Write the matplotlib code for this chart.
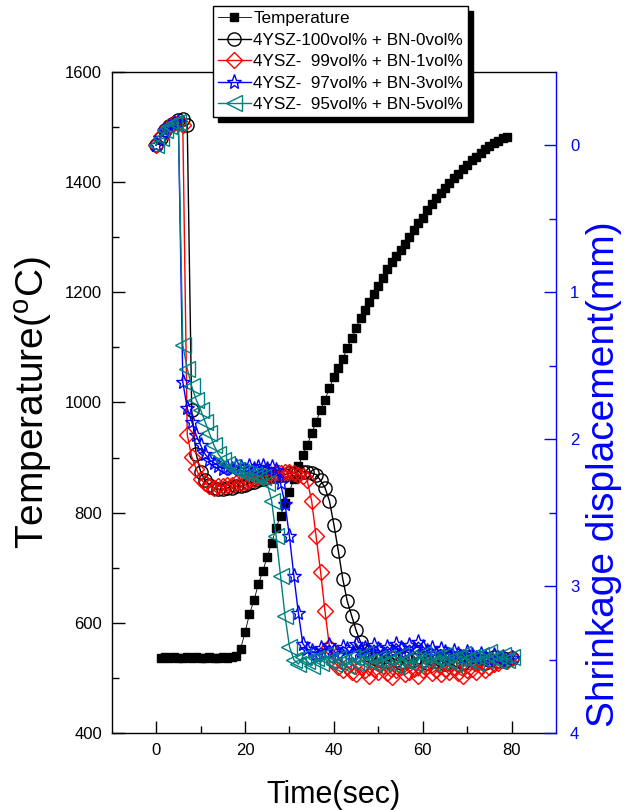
import matplotlib
matplotlib.use('Agg')
import matplotlib.pyplot as plt
from matplotlib.patches import Rectangle
from matplotlib.ticker import FixedLocator

plt.rcParams['font.family'] = ['Liberation Sans', 'DejaVu Sans']
plt.rcParams['mathtext.fontset'] = 'custom'
plt.rcParams['mathtext.rm'] = 'Liberation Sans'

# ---------------- data ----------------
temp_time = list(range(1, 80))
temperature = [537, 538, 537, 538, 537, 537, 538, 537, 538, 537, 537, 538, 537, 537, 538, 537, 538, 540,
               553, 583, 616, 641, 670, 694, 720, 745, 772, 795, 818, 838, 862, 884, 905, 923, 944, 965,
               986, 1005, 1026, 1047, 1062, 1079, 1098, 1117, 1135, 1153, 1168, 1183, 1196, 1211, 1226,
               1242, 1255, 1266, 1277, 1288, 1301, 1312, 1325, 1335, 1350, 1360, 1370, 1380, 1389, 1398,
               1407, 1415, 1423, 1431, 1439, 1446, 1453, 1459, 1465, 1470, 1475, 1479, 1482]

disp_time = list(range(0, 81))
bn0 = [0.00, -0.05, -0.10, -0.13, -0.15, -0.17, -0.18, -0.14,
       1.80, 2.10, 2.22, 2.28, 2.31, 2.33, 2.34, 2.34,
       2.33, 2.33, 2.32, 2.32, 2.31, 2.30, 2.29, 2.28,
       2.27, 2.26, 2.25, 2.25, 2.24, 2.24, 2.23, 2.23,
       2.22, 2.22, 2.22, 2.23, 2.24, 2.28, 2.33, 2.42,
       2.58, 2.76, 2.95, 3.10, 3.20, 3.30, 3.38, 3.44,
       3.47, 3.49, 3.50, 3.48, 3.51, 3.49, 3.50, 3.52,
       3.49, 3.51, 3.50, 3.48, 3.50, 3.52, 3.49, 3.51,
       3.50, 3.53, 3.49, 3.51, 3.50, 3.52, 3.48, 3.50,
       3.51, 3.49, 3.52, 3.50, 3.48, 3.51, 3.49, 3.50,
       3.49]
bn1 = [0.00, -0.06, -0.10, -0.13, -0.15, -0.15, -0.14,
       1.97, 2.12, 2.20, 2.27, 2.30, 2.32, 2.33, 2.32,
       2.32, 2.31, 2.31, 2.30, 2.30, 2.29, 2.28, 2.27,
       2.26, 2.25, 2.25, 2.24, 2.23, 2.23, 2.22, 2.22,
       2.23, 2.24, 2.25,
       2.28, 2.42, 2.66, 2.90, 3.17, 3.41, 3.51, 3.55,
       3.57, 3.54, 3.58, 3.60, 3.55, 3.57, 3.61, 3.56, 3.58, 3.54,
       3.59, 3.62, 3.57, 3.55, 3.60, 3.58, 3.56, 3.61, 3.57, 3.54,
       3.59, 3.57, 3.60, 3.56, 3.58, 3.55, 3.59, 3.61, 3.57, 3.56,
       3.58, 3.54, 3.57, 3.55, 3.53, 3.52, 3.50, 3.51, 3.49]
bn3 = [0.00, -0.05, -0.10, -0.13, -0.15, -0.16,
       1.61, 1.79, 1.88, 1.97, 2.04, 2.10, 2.14, 2.16,
       2.18, 2.20, 2.19, 2.20, 2.18, 2.19, 2.21, 2.18,
       2.20, 2.19, 2.18, 2.20, 2.19, 2.21,
       2.30, 2.44, 2.66, 2.93, 3.18, 3.39, 3.43, 3.44,
       3.46, 3.42, 3.45, 3.40, 3.44, 3.47, 3.41, 3.43, 3.46, 3.39,
       3.44, 3.42, 3.45, 3.40, 3.43, 3.46, 3.41, 3.44, 3.39, 3.42,
       3.45, 3.40, 3.43, 3.38, 3.41, 3.44, 3.42, 3.46, 3.43, 3.45,
       3.47, 3.44, 3.46, 3.48, 3.45, 3.47, 3.49, 3.46, 3.48, 3.50,
       3.47, 3.49, 3.48, 3.50, 3.49]
bn5 = [0.00, -0.05, -0.10, -0.13, -0.15, -0.16,
       1.36, 1.52, 1.64, 1.73, 1.80, 1.88, 1.96, 2.04,
       2.10, 2.14, 2.17, 2.19, 2.21, 2.22, 2.23, 2.24,
       2.24, 2.25, 2.26, 2.30,
       2.42, 2.66, 2.93, 3.20, 3.41,
       3.50, 3.53, 3.48, 3.51, 3.54, 3.49, 3.52, 3.47, 3.50, 3.53,
       3.49, 3.51, 3.54, 3.48, 3.52, 3.50, 3.46, 3.51, 3.53, 3.49,
       3.52, 3.48, 3.50, 3.54, 3.47, 3.51, 3.49, 3.53, 3.50, 3.46,
       3.49, 3.52, 3.48, 3.51, 3.47, 3.50, 3.53, 3.49, 3.46, 3.50,
       3.48, 3.52, 3.47, 3.50, 3.45, 3.49, 3.51, 3.47, 3.50, 3.48]

labels = ['Temperature',
          '4YSZ-100vol% + BN-0vol%',
          '4YSZ-  99vol% + BN-1vol%',
          '4YSZ-  97vol% + BN-3vol%',
          '4YSZ-  95vol% + BN-5vol%']
x_ticks = [0, 20, 40, 60, 80]
t_ticks = [400, 600, 800, 1000, 1200, 1400, 1600]
d_ticks = [0, 1, 2, 3, 4]

# ---------------- figure ----------------
fig = plt.figure(figsize=(6.29, 8.10), dpi=100)
ax = fig.add_axes([0.1776, 0.0947, 0.7064, 0.8168])

h0, = ax.plot(temp_time, temperature, color='k', lw=0.6, marker='s', ms=6.2,
              mfc='k', mec='k', label=labels[0])
ax.set_xlim(-10, 90)
ax.set_ylim(400, 1600)
ax.set_xticks(x_ticks)
ax.xaxis.set_minor_locator(FixedLocator([10, 30, 50, 70]))
ax.set_yticks(t_ticks)
ax.yaxis.set_minor_locator(FixedLocator([500, 700, 900, 1100, 1300, 1500]))
ax.tick_params(which='major', direction='in', length=9, width=1, labelsize=12, pad=7)
ax.tick_params(which='minor', direction='in', length=5, width=1)
for s in ax.spines.values():
    s.set_linewidth(1.0)
ax.spines['right'].set_visible(False)
ax.set_xlabel('Time(sec)', fontsize=22, labelpad=16)
ax.set_ylabel(r'Temperature($^{\rm o}$C)', fontsize=28)
ax.yaxis.set_label_coords(-0.128, 0.5)

ax2 = ax.twinx()
ms = 9.5
h1, = ax2.plot(disp_time, bn0, color='k', lw=1.0, marker='o', ms=ms, mfc='none',
               mec='k', mew=1.0, label=labels[1])
h2, = ax2.plot(disp_time, bn1, color='#FF0000', lw=1.0, marker='D', ms=8.5, mfc='none',
               mec='#FF0000', mew=1.0, label=labels[2])
h3, = ax2.plot(disp_time, bn3, color='#0000FF', lw=1.0, marker='*', ms=11, mfc='none',
               mec='#0000FF', mew=1.0, label=labels[3])
h4, = ax2.plot(disp_time, bn5, color='#008080', lw=1.0, marker='<', ms=11, mfc='none',
               mec='#008080', mew=1.0, label=labels[4])
ax2.set_ylim(4, -0.5)
ax2.set_yticks(d_ticks)
ax2.yaxis.set_minor_locator(FixedLocator([0.5, 1.5, 2.5, 3.5]))
ax2.tick_params(which='major', direction='in', length=9, width=1, labelsize=12, pad=10,
                colors='blue')
ax2.tick_params(which='minor', direction='in', length=5, width=1, colors='blue')
for k, s in ax2.spines.items():
    s.set_linewidth(1.0)
ax2.spines['right'].set_color('blue')
ax2.spines['left'].set_visible(False)
ax2.spines['top'].set_visible(False)
ax2.spines['bottom'].set_visible(False)
ax2.set_ylabel('Shrinkage displacement(mm)', fontsize=28, color='blue')
ax2.yaxis.set_label_coords(1.068, 0.392)

leg = fig.legend([h0, h1, h2, h3, h4], labels, loc='upper left',
                 bbox_to_anchor=(213 / 629, 1 - 6 / 810), borderaxespad=0,
                 fontsize=12.3, frameon=True, fancybox=False, framealpha=1,
                 edgecolor='k', handlelength=1.9, handletextpad=0.15,
                 labelspacing=0.38, borderpad=0.3)
leg.get_frame().set_linewidth(1.0)
leg.set_zorder(10)

fig.canvas.draw()
bb = leg.get_window_extent()
inv = fig.transFigure.inverted()
(x0, y0) = inv.transform((bb.x0 + 5, bb.y0 - 5))
(x1, y1) = inv.transform((bb.x1 + 5, bb.y1 - 5))
fig.add_artist(Rectangle((x0, y0), x1 - x0, y1 - y0, transform=fig.transFigure,
                         facecolor='k', edgecolor='k', zorder=9))

fig.savefig('out.png', dpi=100)
